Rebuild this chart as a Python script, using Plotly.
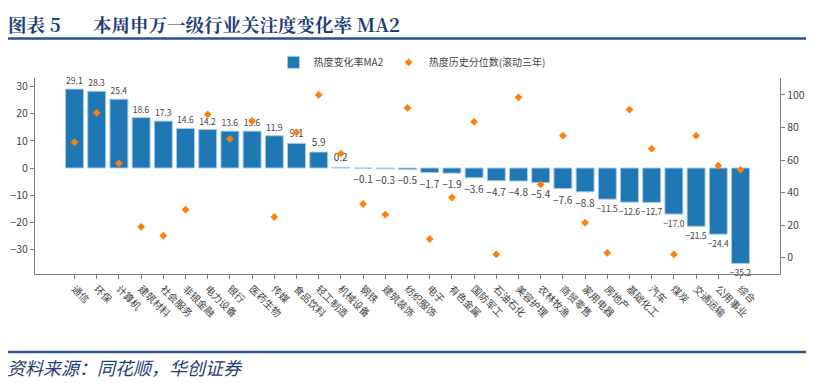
import plotly.graph_objects as go

categories = ["通信", "环保", "计算机", "建筑材料", "社会服务", "非银金融", "电力设备", "银行",
              "医药生物", "传媒", "食品饮料", "轻工制造", "机械设备", "钢铁", "建筑装饰", "纺织服饰",
              "电子", "有色金属", "国防军工", "石油石化", "美容护理", "农林牧渔", "商贸零售", "家用电器",
              "房地产", "基础化工", "汽车", "煤炭", "交通运输", "公用事业", "综合"]
heat_change_ma2 = [29.1, 28.3, 25.4, 18.6, 17.3, 14.6, 14.2, 13.6, 13.6, 11.9, 9.1, 5.9, 0.2,
                   -0.1, -0.3, -0.5, -1.7, -1.9, -3.6, -4.7, -4.8, -5.4, -7.6, -8.8, -11.5,
                   -12.6, -12.7, -17.0, -21.5, -24.4, -35.2]
heat_percentile = [71, 89, 58, 19, 13.5, 29.5, 88, 73, 84, 25, 77, 100, 64, 33, 26.5, 92,
                   11.5, 37, 83.5, 2, 98.5, 45, 75, 21.5, 3, 91, 67, 2, 75, 56.5, 54]
left_ticks = [-30, -20, -10, 0, 10, 20, 30]
right_ticks = [0, 20, 40, 60, 80, 100]

NAVY = "#1f3d7a"
RULE = "#2b5190"
AX = "#7f7f7f"
TXT = "#444444"
FONT = "Noto Sans CJK SC"
SERIF = "Noto Serif CJK SC, Noto Sans CJK SC"

bar_text = [f"{v:.1f}".replace("-", "\u2212") for v in heat_change_ma2]
bar_text_size = [10 if abs(v) < 10 else 8.5 for v in heat_change_ma2]

fig = go.Figure()
fig.add_trace(go.Bar(
    x=categories, y=heat_change_ma2, name="热度变化率MA2",
    marker=dict(color="#1f77b4", line=dict(color="#a9cbe8", width=1)),
    width=0.81,
    text=bar_text, textposition="outside", constraintext="none", cliponaxis=False,
    textfont=dict(size=bar_text_size, color=TXT, family=FONT),
    yaxis="y",
))
fig.add_trace(go.Scatter(
    x=categories, y=heat_percentile, name="热度历史分位数(滚动三年)",
    mode="markers", marker=dict(color="#ff7f0e", symbol="diamond", size=6),
    yaxis="y2",
))

axis_common = dict(showline=True, linecolor=AX, linewidth=1.2, ticks="outside",
                   ticklen=4, tickcolor=AX, showgrid=False, zeroline=False,
                   automargin=False,
                   tickfont=dict(size=10.5, color=TXT, family=FONT))

# page body adds an 8px offset; plot area sits at x 35-780, y 78-274 in the window
fig.update_layout(
    width=814, height=383,
    margin=dict(l=27, r=42, t=70, b=117, autoexpand=False),
    paper_bgcolor="white", plot_bgcolor="white",
    font=dict(family=FONT, color=TXT),
    xaxis=dict(**axis_common, range=[-1.78, 31.78], tickangle=45, type="category"),
    yaxis=dict(**axis_common, range=[-39.1, 33.2], tickvals=left_ticks),
    yaxis2=dict(**axis_common, range=[-10, 110.4], tickvals=right_ticks,
                overlaying="y", side="right"),
    legend=dict(orientation="h", x=0.506, xanchor="center", y=1.08, yanchor="middle",
                font=dict(size=10, color=TXT, family=FONT), bgcolor="rgba(0,0,0,0)",
                itemwidth=30),
    showlegend=True,
)

fig.update_xaxes(tickfont=dict(size=10, color=TXT, family=FONT))

def px_x(p):
    return (p - 35) / 745.0

def px_y(p):
    return (274 - p) / 196.0

fig.add_shape(type="line", xref="paper", yref="paper",
              x0=px_x(6), x1=px_x(808), y0=px_y(38.5), y1=px_y(38.5),
              line=dict(color=RULE, width=2.5))
fig.add_shape(type="line", xref="paper", yref="paper",
              x0=px_x(6), x1=px_x(808), y0=px_y(352), y1=px_y(352),
              line=dict(color=RULE, width=2.5))

fig.add_annotation(xref="paper", yref="paper", x=px_x(6), y=px_y(8.5),
                   xanchor="left", yanchor="top", showarrow=False,
                   text="<b>图表 5</b>",
                   font=dict(size=18.5, color=NAVY, family=SERIF))
fig.add_annotation(xref="paper", yref="paper", x=px_x(91), y=px_y(8.5),
                   xanchor="left", yanchor="top", showarrow=False,
                   text="<b>本周申万一级行业关注度变化率 MA2</b>",
                   font=dict(size=18.5, color=NAVY, family=SERIF))
fig.add_annotation(xref="paper", yref="paper", x=px_x(5), y=px_y(367),
                   xanchor="left", yanchor="middle", showarrow=False,
                   text="<i>资料来源：同花顺，华创证券</i>",
                   font=dict(size=18, color=NAVY, family=FONT))

fig.write_html("out.html")
